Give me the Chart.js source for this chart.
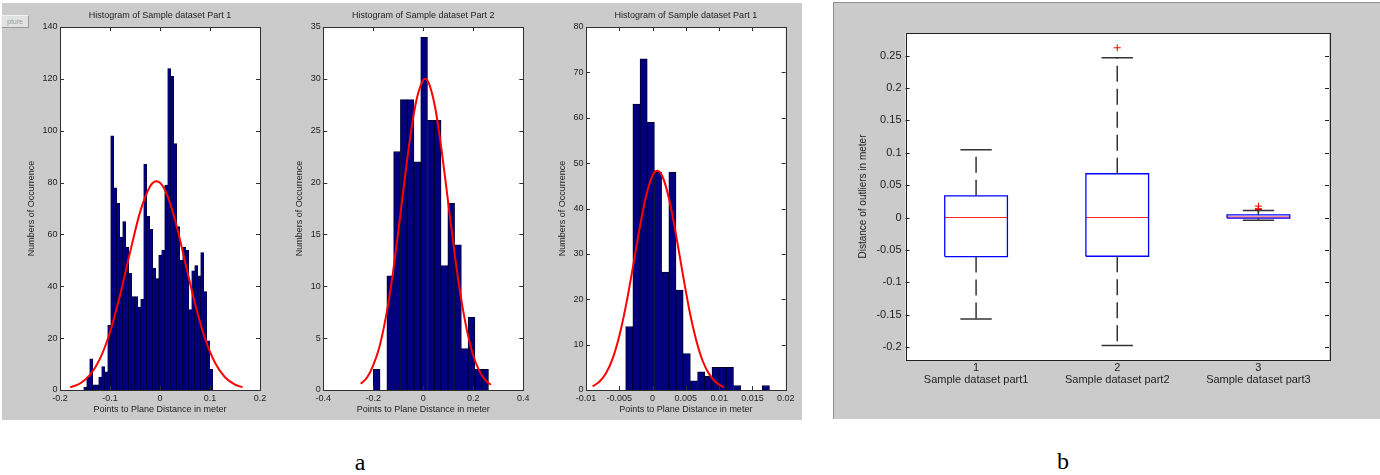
<!DOCTYPE html>
<html><head><meta charset="utf-8">
<script src="https://cdn.jsdelivr.net/npm/chart.js@4/dist/chart.umd.min.js"></script>
<style>
html,body{margin:0;padding:0;background:#fff;width:1380px;height:475px;overflow:hidden;position:relative;font-family:"Liberation Sans",Arial,sans-serif;}
.abs{position:absolute;}
canvas{position:absolute;top:0;}
</style></head><body>
<div class="abs" style="left:2px;top:3px;width:800px;height:417px;background:#cbcbcb"></div>
<div class="abs" style="left:1px;top:15px;width:26px;height:11px;background:#e2e2e2;border:1px solid #f2f2f2;border-right-color:#9a9a9a;border-bottom-color:#9a9a9a;font:7px 'Liberation Sans';color:#a0a0a0;line-height:11px;text-align:center">pture</div>
<div class="abs" style="left:833px;top:2px;width:547px;height:416px;background:#cbcbcb;border-top:1px solid #909090;border-left:1px solid #909090"></div>
<canvas id="h1" width="270" height="420" style="left:0px"></canvas>
<canvas id="h2" width="270" height="420" style="left:270px"></canvas>
<canvas id="h3" width="270" height="420" style="left:540px"></canvas>
<canvas id="bp" width="547" height="420" style="left:833px"></canvas>
<div class="abs" style="left:330px;top:449px;width:60px;text-align:center;font:24px 'Liberation Serif',serif;color:#000">a</div>
<div class="abs" style="left:1033px;top:448px;width:60px;text-align:center;font:24px 'Liberation Serif',serif;color:#000">b</div>
<script>
// ---------- Histogram 1 ----------
const h1Title = 'Histogram of Sample dataset Part 1';
const h1Counts = [1, 5, 12, 2, 2, 5, 9, 7, 25, 98, 78, 72, 59, 65, 55, 45, 36, 36, 32, 35, 87, 67, 62, 47, 43, 52, 54, 79, 124, 121, 95, 63, 50, 55, 54, 31, 46, 48, 44, 53, 38, 19, 8];
const h1BinStart = -0.1526;
const h1BinWidth = 0.006;
const h1CurveX = [-0.18, -0.16, -0.14, -0.12, -0.10, -0.08, -0.06, -0.04, -0.02, -0.007, 0.01, 0.03, 0.05, 0.07, 0.09, 0.11, 0.13, 0.15, 0.165];
const h1CurveY = [1.0, 2.5, 5.8, 12.1, 22.3, 36.5, 53.0, 68.5, 78.5, 80.5, 77.1, 65.7, 49.6, 33.4, 19.9, 10.5, 4.9, 2.1, 1.1];
const h1XTicks = [-0.2, -0.1, 0, 0.1, 0.2];
const h1XLabels = ['-0.2', '-0.1', '0', '0.1', '0.2'];
const h1YTicks = [0, 20, 40, 60, 80, 100, 120, 140];
const h1YLabels = ['0', '20', '40', '60', '80', '100', '120', '140'];

// ---------- Histogram 2 ----------
const h2Title = 'Histogram of Sample dataset Part 2';
const h2Counts = [2, 0, 11, 23, 28, 28, 22, 34, 26, 26, 12, 18, 14, 4, 7, 2, 2];
const h2BinStart = -0.2;
const h2BinWidth = 0.0271;
const h2CurveX = [-0.25, -0.225, -0.2, -0.175, -0.15, -0.125, -0.1, -0.075, -0.05, -0.025, 0, 0.007, 0.025, 0.05, 0.075, 0.1, 0.125, 0.15, 0.175, 0.2, 0.225, 0.25, 0.27];
const h2CurveY = [0.6, 1.2, 2.4, 4.2, 7.0, 10.7, 15.3, 20.2, 24.8, 28.2, 29.9, 30.0, 29.4, 26.9, 22.8, 18.0, 13.2, 9.0, 5.7, 3.3, 1.8, 0.9, 0.5];
const h2XTicks = [-0.4, -0.2, 0, 0.2, 0.4];
const h2XLabels = ['-0.4', '-0.2', '0', '0.2', '0.4'];
const h2YTicks = [0, 5, 10, 15, 20, 25, 30, 35];
const h2YLabels = ['0', '5', '10', '15', '20', '25', '30', '35'];

// ---------- Histogram 3 ----------
const h3Title = 'Histogram of Sample dataset Part 1';
const h3Counts = [14, 63, 73, 59, 48, 26, 48, 22, 8, 2, 4, 3, 5, 5, 5, 1, 0, 0, 0, 1];
const h3BinStart = -0.00404;
const h3BinWidth = 0.00108;
const h3CurveX = [-0.009, -0.008, -0.007, -0.006, -0.005, -0.004, -0.003, -0.002, -0.001, 0, 0.0007, 0.0015, 0.0025, 0.0035, 0.0045, 0.0055, 0.0065, 0.0075, 0.0085, 0.0095, 0.0107];
const h3CurveY = [0.8, 1.8, 3.7, 6.9, 11.9, 18.6, 26.7, 35.2, 42.6, 47.3, 48.3, 47.0, 42.0, 34.4, 25.9, 17.8, 11.3, 6.5, 3.5, 1.7, 0.6];
const h3XTicks = [-0.01, -0.005, 0, 0.005, 0.01, 0.015, 0.02];
const h3XLabels = ['-0.01', '-0.005', '0', '0.005', '0.01', '0.015', '0.02'];
const h3YTicks = [0, 10, 20, 30, 40, 50, 60, 70, 80];
const h3YLabels = ['0', '10', '20', '30', '40', '50', '60', '70', '80'];

const histXTitle = 'Points to Plane Distance in meter';
const histYTitle = 'Numbers of Occurrence';

// ---------- Boxplot ----------
const boxPositions = [1, 2, 3];
const boxNumbers = ['1', '2', '3'];
const boxLabels = ['Sample dataset part1', 'Sample dataset part2', 'Sample dataset part3'];
const boxQ1 = [-0.0603, -0.0598, -0.0010];
const boxMedian = [0.0, 0.0, 0.0008];
const boxQ3 = [0.0336, 0.0676, 0.0042];
const boxWhiskerLow = [-0.1568, -0.1976, -0.0040];
const boxWhiskerHigh = [0.1048, 0.2467, 0.0108];
const boxOutliers2 = [0.2622];
const boxOutliers3 = [0.0115, 0.0120, 0.0125, 0.0130, 0.0136, 0.0176];
const boxYTicks = [-0.2, -0.15, -0.1, -0.05, 0, 0.05, 0.1, 0.15, 0.2, 0.25];
const boxYLabels = ['-0.2', '-0.15', '-0.1', '-0.05', '0', '0.05', '0.1', '0.15', '0.2', '0.25'];
const boxYTitle = 'Distance of outliers in meter';

const FONT = "'Liberation Sans', Arial, sans-serif";
const TXT = '#1e1e1e';
Chart.defaults.font.family = FONT;
Chart.defaults.color = TXT;

const matlabFrame = {
  id: 'matlabFrame',
  beforeDraw(chart) {
    const a = chart.chartArea, c = chart.ctx;
    c.save(); c.fillStyle = '#ffffff';
    c.fillRect(a.left, a.top, a.right - a.left, a.bottom - a.top);
    c.restore();
  },
  afterDraw(chart, args, o) {
    const a = chart.chartArea, c = chart.ctx, L = o.tickLen;
    c.save();
    c.strokeStyle = o.color; c.lineWidth = 1;
    c.beginPath();
    const ys = chart.scales.y;
    ys.ticks.forEach(t => {
      const p = Math.round(ys.getPixelForValue(t.value)) + 0.5;
      c.moveTo(a.left, p); c.lineTo(a.left + L, p);
      c.moveTo(a.right, p); c.lineTo(a.right - L, p);
    });
    if (o.xTicks) {
      const xs = chart.scales.x;
      xs.ticks.forEach(t => {
        const p = Math.round(xs.getPixelForValue(t.value)) + 0.5;
        c.moveTo(p, a.bottom); c.lineTo(p, a.bottom - L);
        c.moveTo(p, a.top); c.lineTo(p, a.top + L);
      });
    }
    c.stroke();
    c.strokeRect(Math.round(a.left) + 0.5, Math.round(a.top) + 0.5, Math.round(a.right - a.left), Math.round(a.bottom - a.top));
    if (o.title) {
      c.fillStyle = TXT; c.font = o.titleFont; c.textAlign = 'center'; c.textBaseline = 'middle';
      c.fillText(o.title, (a.left + a.right) / 2, a.top - o.titleGap);
    }
    c.restore();
  }
};

function makeHist(id, title, counts, binStart, binWidth, cx, cy, xMin, xMax, xTicks, xLabels, yMax, yTicks, yLabels, geo) {
  const bars = counts.map((v, i) => ({ x: binStart + (i + 0.5) * binWidth, y: v }));
  const curve = cx.map((x, i) => ({ x: x, y: cy[i] }));
  new Chart(document.getElementById(id), {
    type: 'bar',
    data: {
      datasets: [
        { type: 'line', data: curve, borderColor: '#ff0000', borderWidth: 2, pointRadius: 0, fill: false, cubicInterpolationMode: 'monotone', order: 0 },
        { type: 'bar', data: bars, backgroundColor: '#000080', borderColor: '#00002a', borderWidth: geo.bw, barPercentage: 1, categoryPercentage: 1, order: 1 }
      ]
    },
    options: {
      responsive: false, animation: false,
      layout: { padding: { top: 27, right: geo.padRight, left: 0, bottom: 0 } },
      scales: {
        x: {
          type: 'linear', min: xMin, max: xMax, offset: false,
          grid: { display: false, drawTicks: false, offset: false }, border: { display: false },
          afterBuildTicks: s => { s.ticks = xTicks.map(v => ({ value: v })); },
          ticks: { callback: (v, i) => xLabels[i], padding: 3, maxRotation: 0, autoSkip: false, font: { size: 9 }, color: TXT },
          title: { display: true, text: histXTitle, font: { size: 9 }, color: TXT, padding: { top: 0, bottom: 5.3 } },
          afterFit: s => { s.height = 30; }
        },
        y: {
          type: 'linear', min: 0, max: yMax,
          grid: { display: false, drawTicks: false }, border: { display: false },
          afterBuildTicks: s => { s.ticks = yTicks.map(v => ({ value: v })); },
          ticks: { callback: (v, i) => yLabels[i], padding: 2.5, autoSkip: false, font: { size: 9 }, color: TXT },
          title: { display: true, text: histYTitle, font: { size: 9 }, color: TXT, padding: { top: geo.yTitlePad, bottom: 0 } },
          afterFit: s => { s.width = geo.yW; }
        }
      },
      plugins: {
        legend: { display: false }, tooltip: { enabled: false },
        matlabFrame: { title: title, titleFont: '9px ' + FONT, titleGap: 11, tickLen: 4, xTicks: true, color: '#303030' }
      }
    },
    plugins: [matlabFrame]
  });
}

makeHist('h1', h1Title, h1Counts, h1BinStart, h1BinWidth, h1CurveX, h1CurveY, -0.2, 0.2, h1XTicks, h1XLabels, 140, h1YTicks, h1YLabels, { padRight: 10, yW: 60, yTitlePad: 26.6, bw: 0.6 });
makeHist('h2', h2Title, h2Counts, h2BinStart, h2BinWidth, h2CurveX, h2CurveY, -0.4, 0.4, h2XTicks, h2XLabels, 35, h2YTicks, h2YLabels, { padRight: 16.7, yW: 53.3, yTitlePad: 24.6, bw: 1 });
makeHist('h3', h3Title, h3Counts, h3BinStart, h3BinWidth, h3CurveX, h3CurveY, -0.01, 0.02, h3XTicks, h3XLabels, 80, h3YTicks, h3YLabels, { padRight: 24.3, yW: 46, yTitlePad: 17.3, bw: 1 });

// ---------- Boxplot datasets built from the named arrays ----------
const BOX_HALF = 0.222, CAP_HALF = 0.111;
const boxDatasets = [];
boxPositions.forEach((p, i) => {
  const seg = (pts, color, width, dash) => boxDatasets.push({ data: pts, showLine: true, borderColor: color, borderWidth: width, borderDash: dash || [], pointRadius: 0, fill: false, tension: 0 });
  seg([{ x: p, y: boxQ3[i] }, { x: p, y: boxWhiskerHigh[i] }], '#333333', 1.5, [16, 7]);
  seg([{ x: p, y: boxQ1[i] }, { x: p, y: boxWhiskerLow[i] }], '#333333', 1.5, [16, 7]);
  seg([{ x: p - CAP_HALF, y: boxWhiskerHigh[i] }, { x: p + CAP_HALF, y: boxWhiskerHigh[i] }], '#333333', 1.5);
  seg([{ x: p - CAP_HALF, y: boxWhiskerLow[i] }, { x: p + CAP_HALF, y: boxWhiskerLow[i] }], '#333333', 1.5);
  seg([{ x: p - BOX_HALF, y: boxQ1[i] }, { x: p + BOX_HALF, y: boxQ1[i] }, { x: p + BOX_HALF, y: boxQ3[i] }, { x: p - BOX_HALF, y: boxQ3[i] }, { x: p - BOX_HALF, y: boxQ1[i] }], '#0000ff', 1.3);
  seg([{ x: p - BOX_HALF, y: boxMedian[i] }, { x: p + BOX_HALF, y: boxMedian[i] }], '#ff2020', 1);
});
boxDatasets.push({ data: boxOutliers2.map(v => ({ x: boxPositions[1], y: v })), showLine: false, pointStyle: 'cross', pointRadius: 3.5, borderColor: '#ff0000', borderWidth: 1 });
boxDatasets.push({ data: boxOutliers3.map(v => ({ x: boxPositions[2], y: v })), showLine: false, pointStyle: 'cross', pointRadius: 3.5, borderColor: '#ff0000', borderWidth: 1 });

new Chart(document.getElementById('bp'), {
  type: 'scatter',
  data: { datasets: boxDatasets },
  options: {
    responsive: false, animation: false,
    layout: { padding: { top: 33, right: 51, left: 0, bottom: 0 } },
    scales: {
      x: {
        type: 'linear', min: 0.5, max: 3.5,
        grid: { display: false, drawTicks: false }, border: { display: false },
        afterBuildTicks: s => { s.ticks = boxPositions.map(v => ({ value: v })); },
        ticks: { callback: (v, i) => [boxNumbers[i], boxLabels[i]], padding: 2, maxRotation: 0, autoSkip: false, font: { size: 11, lineHeight: 1.1 }, color: TXT },
        afterFit: s => { s.height = 60; }
      },
      y: {
        type: 'linear', min: -0.22, max: 0.285,
        grid: { display: false, drawTicks: false }, border: { display: false },
        afterBuildTicks: s => { s.ticks = boxYTicks.map(v => ({ value: v })); },
        ticks: { callback: (v, i) => boxYLabels[i], padding: 4, autoSkip: false, font: { size: 11 }, color: TXT },
        title: { display: true, text: boxYTitle, font: { size: 10 }, color: TXT, padding: { top: 24, bottom: 0 } },
        afterFit: s => { s.width = 72.5; }
      }
    },
    plugins: {
      legend: { display: false }, tooltip: { enabled: false },
      matlabFrame: { title: '', tickLen: 4, xTicks: false, color: '#202020' }
    }
  },
  plugins: [matlabFrame]
});
</script>
</body></html>
